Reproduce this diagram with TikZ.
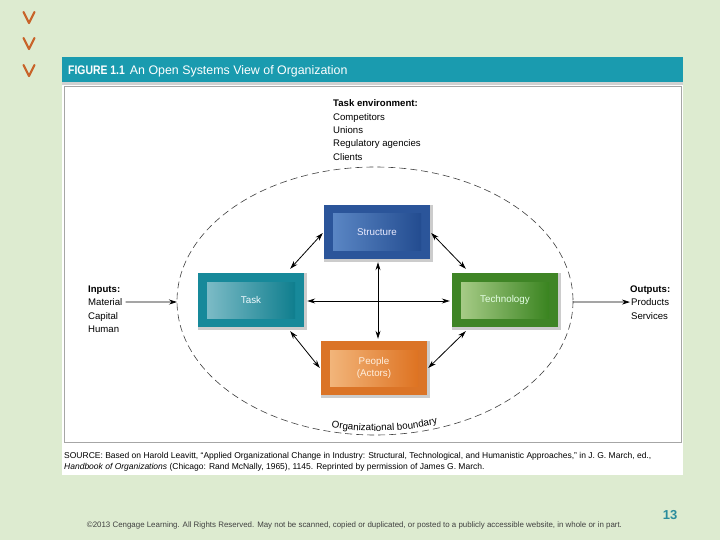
\documentclass[tikz,border=0pt]{standalone}
\usepackage{fontspec}
\setmainfont{Liberation Sans}
\usetikzlibrary{arrows.meta,calc,decorations.text}
\definecolor{bgcol}{HTML}{DDEBD0}
\definecolor{tealbar}{HTML}{1A9BAF}
\definecolor{chev}{HTML}{C8642A}
\definecolor{stdark}{HTML}{2B559A}
\definecolor{stlight}{HTML}{5A86C4}
\definecolor{stmid}{HTML}{234C90}
\definecolor{tkdark}{HTML}{17899A}
\definecolor{tklight}{HTML}{7CBBC6}
\definecolor{tkmid}{HTML}{0F7E8E}
\definecolor{tcdark}{HTML}{3F8526}
\definecolor{tclight}{HTML}{A6CB86}
\definecolor{tcmid}{HTML}{3A8420}
\definecolor{ppdark}{HTML}{DB7427}
\definecolor{pplight}{HTML}{F2B57A}
\definecolor{ppmid}{HTML}{DE7322}
\definecolor{pagenum}{HTML}{2A8C9C}
\tikzset{
  outerbox/.style={minimum width=106pt, minimum height=54pt, inner sep=0pt},
  innerbox/.style={minimum width=88pt, minimum height=36pt, inner sep=0pt, font=\fontsize{9.8}{12.5}\selectfont, align=center},
  halo/.style={fill=black!20},
  link/.style={draw=black, line width=0.8pt, {Stealth[length=8pt,width=5pt]}-{Stealth[length=8pt,width=5pt]}},
  oneway/.style={draw=black, line width=0.8pt, -{Stealth[length=8pt,width=5pt]}},
  lbl/.style={font=\fontsize{9.6}{11}\selectfont, inner sep=0pt, anchor=base west},
  lblb/.style={font=\fontsize{9.6}{11}\selectfont\bfseries, inner sep=0pt, anchor=base west},
  chevron/.style={draw=chev, line width=2.2pt, line cap=round, line join=round}
}
\begin{document}
\begin{tikzpicture}[x=1pt,y=-1pt]
\useasboundingbox (0,0) rectangle (720,540);
\fill[bgcol] (0,0) rectangle (720,540);
% chevrons
\draw[chevron] (23.5,12) -- (29,23) -- (34.5,12);
\draw[chevron] (23.5,38) -- (29,49) -- (34.5,38);
\draw[chevron] (23.5,65) -- (29,76) -- (34.5,65);
% panel
\fill[tealbar] (62,57) rectangle (683,82);
\fill[black!18] (62,82) rectangle (683,85);
\fill[white] (62,85) rectangle (683,475);
\draw[black!35, line width=0.6pt] (64.5,86) rectangle (681.5,442);
\node[anchor=base west, text=white, inner sep=0pt, font=\fontsize{12.4}{14}\selectfont] (title) at (68,75)
  {\scalebox{0.84}[1]{\bfseries FIGURE 1.1}\hspace{5pt}An Open Systems View of Organization};
% ellipse
\draw[black!75, line width=0.6pt, dash pattern=on 7pt off 4pt] (375,301) ellipse [x radius=198, y radius=134];
\coordinate (ellL) at (177,302);
\coordinate (ellR) at (573,302);
\path[decorate, decoration={text along path, text align=center,
  text={|\fontsize{9.8}{11}\selectfont|Organizational boundary}}]
  (375,301) ++(107:191 and 130) arc[start angle=107, end angle=67, x radius=191, y radius=130];
% task environment
\node[lblb] (te) at (333,106.5) {Task environment:};
\node[lbl] (comp) at (333,120.5) {Competitors};
\node[lbl] (uni) at (333,133.5) {Unions};
\node[lbl] (reg) at (333,147) {Regulatory agencies};
\node[lbl] (cli) at (333,160.5) {Clients};
% inputs / outputs
\node[lblb] (inp) at (88,292.5) {Inputs:};
\node[lbl] (mat) at (88,305.5) {Material};
\node[lbl] (cap) at (88,319) {Capital};
\node[lbl] (hum) at (88,332.5) {Human};
\node[lblb] (outp) at (630,292.5) {Outputs:};
\node[lbl] (prod) at (631,305.5) {Products};
\node[lbl] (serv) at (631,319) {Services};
\draw[oneway] ($(mat.east)+(3,0)$) -- (ellL);
\draw[oneway] (ellR) -- ($(prod.west)+(-1,0)$);
% boxes
\fill[halo] (324,205) rectangle (433,262);
\node[outerbox, fill=stdark] (structure) at (377,232) {};
\node[innerbox, left color=stlight, right color=stmid, text=blue!8!white] (structureIn) at (structure) {Structure};
\fill[halo] (198,273) rectangle (307,330);
\node[outerbox, fill=tkdark] (task) at (251,300) {};
\node[innerbox, left color=tklight, right color=tkmid, text=cyan!6!white] (taskIn) at (task) {Task};
\fill[halo] (452,273) rectangle (561,330);
\node[outerbox, fill=tcdark] (tech) at (505,300) {};
\node[innerbox, left color=tclight, right color=tcmid, text=green!10!white] (techIn) at (tech) {Technology};
\fill[halo] (321,341) rectangle (430,398);
\node[outerbox, fill=ppdark] (people) at (374,368) {};
\node[innerbox, left color=pplight, right color=ppmid, text=orange!12!white] (peopleIn) at (people) {People\\(Actors)};
% connectors
\draw[link] ($(task.north east)+(-14,-4)$) -- ($(structure.west)+(-1,1)$);
\draw[link] ($(structure.east)+(1,1)$) -- ($(tech.north west)+(14,-4)$);
\draw[link] ($(task.south east)+(-14,4)$) -- ($(people.west)+(-1,0)$);
\draw[link] ($(tech.south west)+(14,4)$) -- ($(people.east)+(1,0)$);
\draw[link] ($(structure.south)+(1,3)$) -- ($(people.north)+(4,-2)$);
\draw[link] ($(task.east)+(3,1)$) -- ($(tech.west)+(-2,1)$);
% source
\node[anchor=base west, inner sep=0pt, font=\fontsize{8.5}{10}\selectfont] (src1) at (64,458)
  {SOURCE: Based on Harold Leavitt, “Applied Organizational Change in Industry: Structural, Technological, and Humanistic Approaches,” in J. G. March, ed.,};
\node[anchor=base west, inner sep=0pt, font=\fontsize{8.5}{10}\selectfont] (src2) at (64,469.5)
  {\textit{Handbook of Organizations} (Chicago: Rand McNally, 1965), 1145. Reprinted by permission of James G. March.};
% footer
\node[anchor=base, inner sep=0pt, text=black!75] (copy) at (354.5,527.5)
  {\resizebox{535pt}{!}{\fontsize{6}{7}\selectfont ©2013 Cengage Learning. All Rights Reserved. May not be scanned, copied or duplicated, or posted to a publicly accessible website, in whole or in part.}};
\node[anchor=base, inner sep=0pt, text=pagenum, font=\fontsize{13}{15}\selectfont\bfseries] (pnum) at (670,519) {13};
\end{tikzpicture}
\end{document}
